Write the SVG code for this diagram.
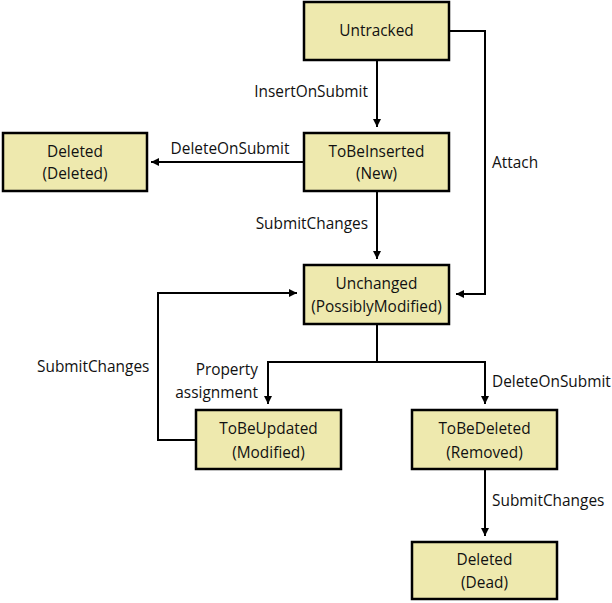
<svg xmlns="http://www.w3.org/2000/svg" width="612" height="603" viewBox="0 0 612 603">
<style>
.box{fill:#EEE9AE;stroke:#000;stroke-width:2.5}
.t{font-family:"Open Sans","Noto Sans","DejaVu Sans",sans-serif;font-size:15.4px;fill:#111}
.c{text-anchor:middle}
.e{text-anchor:end}
.ln{fill:none;stroke:#000;stroke-width:2}
</style>
<defs>
<marker id="ah" markerUnits="userSpaceOnUse" markerWidth="10" markerHeight="10" viewBox="0 0 10 10" refX="9" refY="5" orient="auto">
<path d="M1,1 L9,5 L1,9 Z" fill="#000"/>
</marker>
</defs>
<rect width="612" height="603" fill="#fff"/>
<g id="connectors">
<path class="ln" d="M377,60 V127" marker-end="url(#ah)"/>
<path class="ln" d="M449,31 H485 V294 H456" marker-end="url(#ah)"/>
<path class="ln" d="M304,162 H151" marker-end="url(#ah)"/>
<path class="ln" d="M377,191 V259" marker-end="url(#ah)"/>
<path class="ln" d="M377,324 V362"/>
<path class="ln" d="M377,362 H268 V404" marker-end="url(#ah)"/>
<path class="ln" d="M377,362 H485 V404" marker-end="url(#ah)"/>
<path class="ln" d="M196,440 H158 V293 H297" marker-end="url(#ah)"/>
<path class="ln" d="M485,469 V536" marker-end="url(#ah)"/>
</g>
<g id="labels">
<text class="t e" x="368" y="97">InsertOnSubmit</text>
<text class="t c" x="230" y="154">DeleteOnSubmit</text>
<text class="t" x="492" y="168">Attach</text>
<text class="t e" x="368" y="229">SubmitChanges</text>
<text class="t" x="37" y="372">SubmitChanges</text>
<text class="t e" x="258" y="375">Property</text>
<text class="t e" x="258" y="398">assignment</text>
<text class="t" x="492" y="387">DeleteOnSubmit</text>
<text class="t" x="492" y="506">SubmitChanges</text>
</g>
<g id="untracked">
<rect class="box" x="304" y="2" width="145" height="58"/>
<text class="t c" x="376.5" y="36">Untracked</text>
</g>
<g id="toBeInserted">
<rect class="box" x="304" y="133" width="145" height="58"/>
<text class="t c" x="376.5" y="157">ToBeInserted</text>
<text class="t c" x="376.5" y="179">(New)</text>
</g>
<g id="deletedDeleted">
<rect class="box" x="3" y="133" width="144" height="58"/>
<text class="t c" x="75" y="157">Deleted</text>
<text class="t c" x="75" y="179">(Deleted)</text>
</g>
<g id="unchanged">
<rect class="box" x="304" y="265" width="145" height="59"/>
<text class="t c" x="376.5" y="289">Unchanged</text>
<text class="t c" x="376.5" y="312">(PossiblyModified)</text>
</g>
<g id="toBeUpdated">
<rect class="box" x="196" y="410" width="145" height="59"/>
<text class="t c" x="268.5" y="434">ToBeUpdated</text>
<text class="t c" x="268.5" y="458">(Modified)</text>
</g>
<g id="toBeDeleted">
<rect class="box" x="412" y="410" width="145" height="59"/>
<text class="t c" x="484.5" y="434">ToBeDeleted</text>
<text class="t c" x="484.5" y="458">(Removed)</text>
</g>
<g id="deletedDead">
<rect class="box" x="412" y="542" width="145" height="57"/>
<text class="t c" x="484.5" y="565">Deleted</text>
<text class="t c" x="484.5" y="588">(Dead)</text>
</g>
</svg>
